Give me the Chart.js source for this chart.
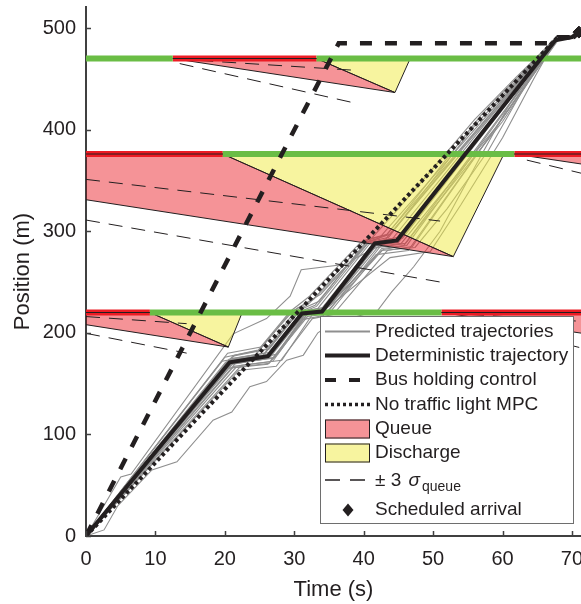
<!DOCTYPE html>
<html>
<head>
<meta charset="utf-8">
<script src="https://cdn.jsdelivr.net/npm/chart.js@4.4.1/dist/chart.umd.min.js"></script>
<style>
  html, body { margin: 0; padding: 0; background: #fff; }
  #wrap { width: 581px; height: 604px; }
</style>
</head>
<body>
<div id="wrap"><canvas id="chart" width="581" height="604"></canvas></div>
<script>
const X_TICKS = [0, 10, 20, 30, 40, 50, 60, 70]
const Y_TICKS = [0, 100, 200, 300, 400, 500]

// stop line positions (m) and signal phases (s)
const STOP_LINES = [220, 376, 470]
const RED_PHASES = [
  [[0, 9.2], [51.2, 72]],
  [[0, 19.7], [61.7, 72]],
  [[12.5, 33.2]],
]
const GREEN_PHASES = [
  [[9.2, 51.2]],
  [[19.7, 61.7]],
  [[0, 12.5], [33.2, 72]],
]

const QUEUE_AREAS = [
  [[0, 220], [9.2, 220], [20.5, 186], [0, 208]],
  [[51.2, 220], [72, 220], [72, 199]],
  [[0, 376], [19.7, 376], [52.9, 275], [0, 331]],
  [[61.7, 376], [72, 376], [72, 365.5]],
  [[12.5, 470], [33.2, 470], [44.5, 436.5]],
]
const DISCHARGE_AREAS = [
  [[9.2, 220], [22.5, 220], [20.5, 186]],
  [[19.7, 376], [60.2, 376], [52.9, 275]],
  [[33.2, 470], [46.7, 470], [44.5, 436.5]],
]
const SIGMA_UPPER = [
  [[0, 216], [14.5, 209]],
  [[0, 351], [51, 310]],
  [[13, 469.5], [38.5, 458.5]],
  [[52, 219.5], [72, 211]],
]
const SIGMA_LOWER = [
  [[0, 199.5], [14.5, 180]],
  [[0, 311], [51, 250]],
  [[13.5, 465], [38.5, 426.5]],
  [[63.5, 370], [72, 356]],
  [[53, 216], [72, 184]],
]

const DETERMINISTIC = [[0, 0], [20.7, 171], [26.2, 177], [31.1, 219], [34, 221], [41.6, 288], [44.8, 291], [67.6, 488], [70, 491], [71, 496]]
const BUS_HOLDING = [[0, 0], [36.4, 485], [67.1, 485], [68, 491], [70, 491]]
const NO_LIGHT_MPC = [[0, 0], [67.8, 490], [70.3, 491], [71, 496]]
const SCHEDULED_ARRIVAL = [[71, 496]]

const PREDICTED = [
  [[0, 0], [20.2, 168], [25.6, 174], [30.6, 216], [33.6, 221], [41.2, 286], [44.4, 289], [67.5, 488]],
  [[0, 0], [21.2, 175], [26.8, 181], [31.4, 221], [33.2, 226], [40.6, 288], [44.9, 294], [67.6, 488]],
  [[0, 0], [21.6, 166], [26.4, 170], [31.9, 216], [35.0, 219], [42.6, 283], [45.8, 286], [67.8, 488]],
  [[0, 0], [20.4, 180], [25.2, 186], [29.9, 222], [32.8, 233], [40.2, 291], [43.2, 296], [67.4, 488]],
  [[0, 0], [22.0, 163], [27.4, 167], [32.6, 214], [35.6, 218], [43.4, 281], [47.0, 285], [67.9, 488]],
  [[0, 0], [20.0, 176], [24.8, 183], [29.4, 221], [32.2, 236], [39.4, 288], [42.2, 293], [67.3, 488]],
  [[0, 0], [21.0, 170], [27.0, 175], [31.6, 219], [34.6, 224], [42.2, 289], [45.6, 293], [67.7, 488]],
  [[0, 0], [22.4, 168], [28.2, 173], [32.8, 220], [35.4, 229], [41.8, 277], [46.4, 281], [68.0, 488]],
  [[0, 0], [19.6, 172], [24.4, 178], [29.2, 218], [32.0, 228], [38.4, 272], [42.4, 286], [67.2, 488]],
  [[0, 0], [21.4, 178], [26.0, 184], [30.4, 224], [33.8, 238], [40.8, 290], [43.8, 297], [67.5, 488]],
  [[0, 0], [20.5, 172], [26.0, 178], [30.8, 218], [33.8, 222], [41.4, 287], [44.6, 291], [67.6, 488]],
  [[0, 0], [20.9, 169], [26.4, 175], [31.3, 217], [34.2, 220], [41.8, 286], [45.0, 289], [67.6, 488]],
  [[0, 0], [20.6, 174], [25.8, 180], [30.6, 220], [33.4, 224], [41.0, 289], [44.2, 293], [58, 410], [67.5, 488]],
  [[0, 0], [21.3, 167], [26.9, 172], [31.8, 218], [34.9, 221], [42.4, 285], [45.4, 288], [59, 402], [67.7, 488]],
  [[0, 0], [20.1, 171], [25.4, 177], [30.2, 219], [33.0, 227], [40.4, 289], [43.6, 294], [56, 404], [67.4, 488]],
  [[0, 0], [21.8, 172], [27.6, 179], [32.2, 221], [34.8, 225], [42.0, 284], [46.0, 288], [60, 408], [67.7, 488]],
  [[0, 0], [20.3, 165], [26.2, 169], [31.2, 213], [34.2, 217], [42.8, 282], [46.2, 286], [67.8, 488]],
  [[0, 0], [21.1, 177], [26.4, 184], [30.9, 223], [33.6, 231], [40.6, 292], [43.4, 297], [57, 415], [67.4, 488]],
  [[0, 0], [20.8, 173], [26.6, 179], [31.2, 220], [34.4, 223], [42.6, 281], [47.4, 284], [52, 322], [58, 380], [63, 440], [67.6, 488]],
  [[0, 0], [21.2, 170], [27.2, 176], [32, 222], [35, 226], [43.8, 274], [49.6, 280], [54, 326], [60, 392], [64.5, 450], [67.6, 488]],
  [[0, 0], [2.6, 30], [5, 58], [6.5, 61], [21.2, 199], [26, 214], [29.4, 236], [31, 262], [38, 268], [41, 292], [45, 322], [50, 362], [56, 410], [62, 452], [67.4, 488]],
  [[0, 0], [2.6, 6], [4.6, 30], [9.5, 65], [13.1, 73], [18.3, 114], [21, 122], [23.6, 147], [26, 152], [28.9, 173], [31.3, 178], [33.4, 200], [36, 212], [39, 216], [42, 222], [44, 240], [47.2, 265], [51, 300], [56.8, 373], [61, 425], [64.5, 462], [67.6, 488]],
]

const LEGEND_LABELS = [
  "Predicted trajectories",
  "Deterministic trajectory",
  "Bus holding control",
  "No traffic light MPC",
  "Queue",
  "Discharge",
  "± 3 ",
  "Scheduled arrival",
]

const COLORS = {
  text: "#231f20",
  axis: "#404040",
  black: "#231f20",
  grey: "#8f8f8f",
  red: "#ec1c24",
  green: "#6abd45",
  queue: "rgba(236, 40, 48, 0.5)",
  discharge: "rgba(240, 234, 64, 0.5)",
}
const FONT = '"Liberation Sans", Arial, Helvetica, sans-serif'

const toXY = (points) => points.map(([x, y]) => ({ x, y }))
const closed = (points) => [...points, points[0]]

function lineSet(points, style, order) {
  return {
    data: toXY(points),
    order,
    fill: false,
    pointRadius: 0,
    tension: 0,
    borderCapStyle: "butt",
    ...style,
  }
}

const datasets = []

PREDICTED.forEach((traj) => {
  datasets.push(lineSet(traj, { borderColor: COLORS.grey, borderWidth: 1.1 }, 60))
})

QUEUE_AREAS.forEach((area) => {
  datasets.push(lineSet(closed(area), {
    fill: "shape", backgroundColor: COLORS.queue, borderColor: COLORS.black, borderWidth: 1,
  }, 50))
})
DISCHARGE_AREAS.forEach((area) => {
  datasets.push(lineSet(closed(area), {
    fill: "shape", backgroundColor: COLORS.discharge, borderColor: COLORS.black, borderWidth: 1,
  }, 50))
})

;[...SIGMA_UPPER, ...SIGMA_LOWER].forEach((seg) => {
  datasets.push(lineSet(seg, { borderColor: COLORS.black, borderWidth: 1, borderDash: [14, 9] }, 45))
})

STOP_LINES.forEach((pos, i) => {
  GREEN_PHASES[i].forEach(([t0, t1]) => {
    datasets.push(lineSet([[t0, pos], [t1, pos]], { borderColor: COLORS.green, borderWidth: 6 }, 40))
  })
  RED_PHASES[i].forEach(([t0, t1]) => {
    datasets.push(lineSet([[t0, pos], [t1, pos]], { borderColor: COLORS.red, borderWidth: 6 }, 40))
    datasets.push(lineSet([[t0, pos], [t1, pos]], { borderColor: COLORS.black, borderWidth: 1.2 }, 39))
  })
})

datasets.push(lineSet(BUS_HOLDING, { borderColor: COLORS.black, borderWidth: 4.5, borderDash: [12, 13] }, 30))
datasets.push(lineSet(DETERMINISTIC, { borderColor: COLORS.black, borderWidth: 4 }, 20))
datasets.push(lineSet(NO_LIGHT_MPC, { borderColor: COLORS.black, borderWidth: 4, borderDash: [3.5, 3] }, 10))
datasets.push({
  data: toXY(SCHEDULED_ARRIVAL),
  order: 0,
  showLine: false,
  pointStyle: "rectRot",
  pointRadius: 6,
  pointBackgroundColor: COLORS.black,
  pointBorderColor: COLORS.black,
  clip: false,
})

// MATLAB style ticks pointing into the plot
const inwardTicks = {
  id: "inwardTicks",
  afterDatasetsDraw(chart) {
    const { ctx, chartArea, scales } = chart
    ctx.save()
    ctx.strokeStyle = COLORS.axis
    ctx.lineWidth = 1.5
    ctx.beginPath()
    X_TICKS.forEach((v) => {
      const px = Math.round(scales.x.getPixelForValue(v)) + 0.5
      ctx.moveTo(px, chartArea.bottom)
      ctx.lineTo(px, chartArea.bottom - 5)
    })
    Y_TICKS.forEach((v) => {
      const py = Math.round(scales.y.getPixelForValue(v)) + 0.5
      ctx.moveTo(chartArea.left, py)
      ctx.lineTo(chartArea.left + 5, py)
    })
    ctx.stroke()
    ctx.restore()
  },
}

const boxLegend = {
  id: "boxLegend",
  afterDraw(chart) {
    const { ctx } = chart
    const box = { x: 320.5, y: 316.5, w: 253, h: 207 }
    const rows = [331.5, 355.5, 380, 404.5, 429, 453, 480, 510]
    const sx0 = 325
    const sx1 = 370
    const tx = 375

    ctx.save()
    ctx.fillStyle = "#fff"
    ctx.fillRect(box.x, box.y, box.w, box.h)
    ctx.strokeStyle = "#6e6e6e"
    ctx.lineWidth = 1
    ctx.strokeRect(box.x, box.y, box.w, box.h)

    const sampleLine = (y, color, width, dash) => {
      ctx.beginPath()
      ctx.setLineDash(dash)
      ctx.strokeStyle = color
      ctx.lineWidth = width
      ctx.lineCap = "butt"
      ctx.moveTo(sx0, y)
      ctx.lineTo(sx1, y)
      ctx.stroke()
      ctx.setLineDash([])
    }
    const sampleBox = (y, fill) => {
      ctx.fillStyle = fill
      ctx.fillRect(sx0, y - 9.5, sx1 - sx0, 19)
      ctx.strokeStyle = COLORS.black
      ctx.lineWidth = 1
      ctx.strokeRect(sx0 + 0.5, y - 9, sx1 - sx0 - 1, 18)
    }

    sampleLine(rows[0], COLORS.grey, 2, [])
    sampleLine(rows[1], COLORS.black, 4, [])
    sampleLine(rows[2], COLORS.black, 4, [11, 13])
    sampleLine(rows[3], COLORS.black, 3.5, [3, 3])
    sampleBox(rows[4], COLORS.queue)
    sampleBox(rows[5], COLORS.discharge)
    sampleLine(rows[6], COLORS.black, 1.5, [15, 10])

    // diamond marker
    const dx = 348
    const dy = rows[7]
    ctx.beginPath()
    ctx.fillStyle = COLORS.black
    ctx.moveTo(dx, dy - 6.5)
    ctx.lineTo(dx + 5.5, dy)
    ctx.lineTo(dx, dy + 6.5)
    ctx.lineTo(dx - 5.5, dy)
    ctx.closePath()
    ctx.fill()

    ctx.fillStyle = COLORS.text
    ctx.font = `19px ${FONT}`
    ctx.textBaseline = "middle"
    ctx.textAlign = "left"
    LEGEND_LABELS.forEach((label, i) => {
      if (i === 6) return
      ctx.fillText(label, tx, rows[i])
    })

    // "± 3 σ_queue"
    const base = rows[6] + 6
    ctx.textBaseline = "alphabetic"
    ctx.fillText(LEGEND_LABELS[6], tx, base)
    let x = tx + ctx.measureText(LEGEND_LABELS[6]).width + 2
    ctx.font = `italic 19px ${FONT}`
    ctx.fillText("σ", x, base)
    x += ctx.measureText("σ").width + 2
    ctx.font = `14px ${FONT}`
    ctx.fillText("queue", x, base + 4.5)
    ctx.restore()
  },
}

new Chart(document.getElementById("chart"), {
  type: "line",
  data: { datasets },
  plugins: [inwardTicks, boxLegend],
  options: {
    responsive: false,
    animation: false,
    devicePixelRatio: 1,
    layout: { autoPadding: false, padding: { top: 7, right: 0, left: 0, bottom: 0 } },
    plugins: {
      legend: { display: false },
      tooltip: { enabled: false },
    },
    scales: {
      x: {
        type: "linear",
        position: "bottom",
        min: 0,
        max: 71.3,
        afterBuildTicks: (scale) => { scale.ticks = X_TICKS.map((value) => ({ value })) },
        afterFit: (scale) => {
          scale.height = 68
          scale.paddingLeft = 0
          scale.paddingRight = 0
        },
        grid: { display: false, drawTicks: false },
        border: { display: true, color: COLORS.axis, width: 2 },
        ticks: {
          color: COLORS.text,
          font: { family: FONT, size: 20 },
          padding: 11,
          maxRotation: 0,
        },
        title: {
          display: true,
          text: "Time (s)",
          color: COLORS.text,
          font: { family: FONT, size: 22 },
          padding: { top: 0, bottom: 1 },
        },
      },
      y: {
        type: "linear",
        min: 0,
        max: 520.7,
        afterBuildTicks: (scale) => { scale.ticks = Y_TICKS.map((value) => ({ value })) },
        afterFit: (scale) => {
          scale.width = 86
          scale.paddingTop = 0
          scale.paddingBottom = 0
        },
        grid: { display: false, drawTicks: false },
        border: { display: true, color: COLORS.axis, width: 2 },
        ticks: {
          color: COLORS.text,
          font: { family: FONT, size: 20 },
          padding: 10,
        },
        title: {
          display: true,
          text: "Position (m)",
          color: COLORS.text,
          font: { family: FONT, size: 22 },
          padding: { top: 10, bottom: 0 },
        },
      },
    },
  },
})
</script>
</body>
</html>
